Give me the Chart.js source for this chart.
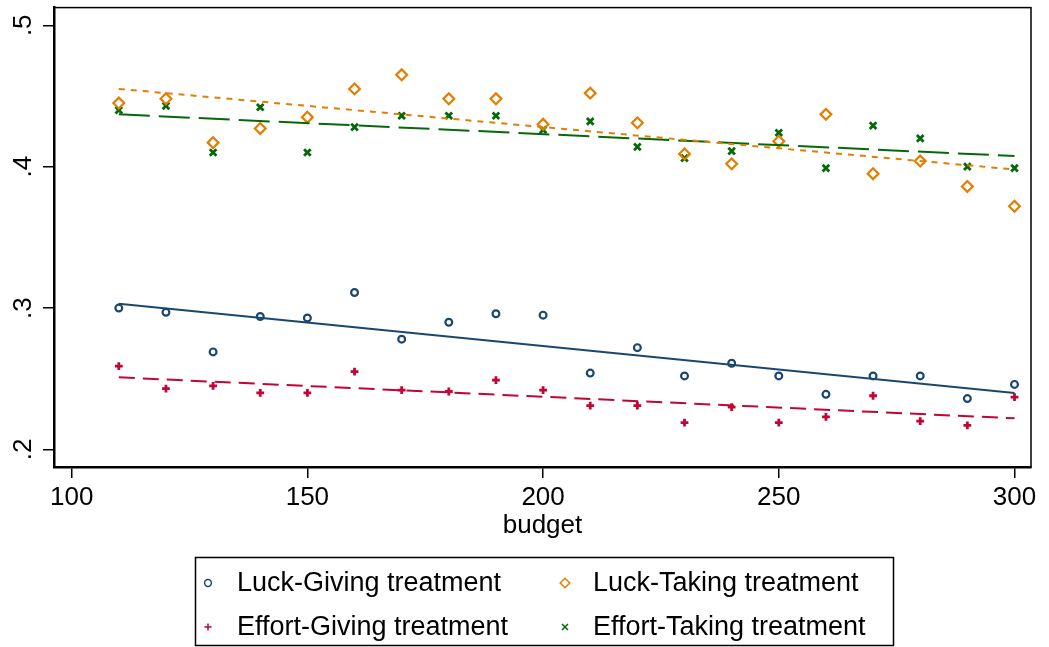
<!DOCTYPE html>
<html>
<head>
<meta charset="utf-8">
<script src="https://cdn.jsdelivr.net/npm/chart.js@4.4.1/dist/chart.umd.min.js"></script>
<style>
  html, body { margin: 0; padding: 0; background: #fff; }
  #wrap { width: 1049px; height: 647px; }
</style>
</head>
<body>
<div id="wrap"><canvas id="myChart"></canvas></div>
<script>
// budget levels (x) and mean shares per treatment
const budget = [110, 120, 130, 140, 150, 160, 170, 180, 190, 200, 210, 220, 230, 240, 250, 260, 270, 280, 290, 300];
const luckGiving = [0.300, 0.297, 0.269, 0.294, 0.293, 0.311, 0.278, 0.290, 0.296, 0.295, 0.254, 0.272, 0.252, 0.261, 0.252, 0.239, 0.252, 0.252, 0.236, 0.246];
const luckTaking = [0.445, 0.448, 0.417, 0.427, 0.435, 0.455, 0.465, 0.448, 0.448, 0.430, 0.452, 0.431, 0.409, 0.402, 0.418, 0.437, 0.395, 0.404, 0.386, 0.372];
const effortGiving = [0.259, 0.243, 0.245, 0.240, 0.240, 0.255, 0.242, 0.241, 0.249, 0.242, 0.231, 0.231, 0.219, 0.230, 0.219, 0.223, 0.238, 0.220, 0.217, 0.237];
const effortTaking = [0.440, 0.443, 0.410, 0.442, 0.410, 0.428, 0.436, 0.436, 0.436, 0.426, 0.432, 0.414, 0.406, 0.411, 0.424, 0.399, 0.429, 0.420, 0.400, 0.399];

// fitted lines, ends
const fitBudget = [110, 300];
const luckGivingFit = [0.303, 0.240];
const luckTakingFit = [0.455, 0.398];
const effortGivingFit = [0.251, 0.222];
const effortTakingFit = [0.437, 0.4075];

const seriesNames = ["Luck-Giving treatment", "Luck-Taking treatment", "Effort-Giving treatment", "Effort-Taking treatment"];
const xTicks = [100, 150, 200, 250, 300];
const yTicks = [0.2, 0.3, 0.4, 0.5];
const xTitle = "budget";

const FONT = "'Liberation Sans', Arial, sans-serif";
const NAVY = "#1a476f";
const ORANGE = "#e37e00";
const CRANBERRY = "#c10534";
const DKGREEN = "#05690a";
const CLEAR = "rgba(0,0,0,0)";

function points(ys) {
  return budget.map((b, i) => ({ x: b, y: ys[i] }));
}

function fitPoints(ys) {
  return fitBudget.map((b, i) => ({ x: b, y: ys[i] }));
}

function markers(label, ys, color, style, radius, width) {
  return {
    label: label,
    data: points(ys),
    showLine: false,
    pointStyle: style,
    pointRadius: radius,
    pointBorderWidth: width,
    borderColor: color,
    backgroundColor: CLEAR,
    order: 2,
  };
}

function fit(ys, color, dash, width) {
  return {
    label: "fit",
    data: fitPoints(ys),
    showLine: true,
    pointRadius: 0,
    borderColor: color,
    borderWidth: width,
    borderDash: dash,
    fill: false,
    order: 1,
  };
}

// no extra label padding, so the plot box sits where the figure has it
function noPad(scale) {
  scale.paddingTop = 0;
  scale.paddingBottom = 0;
  scale.paddingLeft = 0;
  scale.paddingRight = 0;
}

// plot-region outline
const frame = {
  id: "frame",
  afterDraw(chart) {
    const { ctx, chartArea: a } = chart;
    ctx.save();
    ctx.strokeStyle = "#000";
    ctx.lineWidth = 1.5;
    ctx.strokeRect(a.left, a.top, a.right - a.left, a.bottom - a.top);
    ctx.restore();
  },
};

// two-column boxed legend below the axis title
const boxLegend = {
  id: "boxLegend",
  afterDraw(chart) {
    const ctx = chart.ctx;
    ctx.save();
    ctx.strokeStyle = "#000";
    ctx.lineWidth = 1.5;
    ctx.strokeRect(195.5, 557.5, 698, 88);
    ctx.font = "27px " + FONT;
    ctx.fillStyle = "#000";
    ctx.textBaseline = "middle";
    ctx.textAlign = "left";
    const small = [3.4, 4.8, 3.6, 4.2];
    for (let i = 0; i < 4; i++) {
      const ds = chart.data.datasets[i];
      const col = i % 2;
      const row = Math.floor(i / 2);
      const mx = 208 + col * 357;
      const my = 583 + row * 44;
      ctx.save();
      ctx.strokeStyle = ds.borderColor;
      ctx.fillStyle = CLEAR;
      Chart.helpers.drawPoint(ctx, { pointStyle: ds.pointStyle, radius: small[i], borderWidth: 2.2 }, mx, my);
      ctx.restore();
      ctx.fillText(ds.label, 237 + col * 356, my + 1);
    }
    ctx.restore();
  },
};

new Chart(document.getElementById("myChart"), {
  type: "scatter",
  data: {
    datasets: [
      markers(seriesNames[0], luckGiving, NAVY, "circle", 3.4, 2.2),
      markers(seriesNames[1], luckTaking, ORANGE, "rectRot", 5.4, 2.2),
      markers(seriesNames[2], effortGiving, CRANBERRY, "cross", 3.9, 2.8),
      markers(seriesNames[3], effortTaking, DKGREEN, "crossRot", 4.7, 2.8),
      fit(luckGivingFit, NAVY, [], 2),
      fit(luckTakingFit, ORANGE, [6, 6], 2),
      fit(effortGivingFit, CRANBERRY, [16, 8], 2),
      fit(effortTakingFit, DKGREEN, [31, 9], 2),
    ],
  },
  options: {
    responsive: true,
    maintainAspectRatio: false,
    animation: false,
    layout: { padding: { top: 6, right: 18, left: 0, bottom: 106 } },
    plugins: {
      legend: { display: false },
      tooltip: { enabled: false },
    },
    scales: {
      x: {
        type: "linear",
        position: "bottom",
        min: 96.25,
        max: 303.5,
        afterBuildTicks: (scale) => { scale.ticks = xTicks.map((v) => ({ value: v })); },
        afterFit: (scale) => { scale.height = 74; noPad(scale); },
        grid: { drawOnChartArea: false, drawTicks: true, tickLength: 11, color: "#000", lineWidth: 1.5 },
        border: { color: "#000", width: 2.5 },
        ticks: { font: { family: FONT, size: 26 }, color: "#000", padding: 4, maxRotation: 0 },
        title: { display: true, text: xTitle, font: { family: FONT, size: 26 }, color: "#000", padding: 0 },
      },
      y: {
        type: "linear",
        min: 0.1876,
        max: 0.5125,
        afterBuildTicks: (scale) => { scale.ticks = yTicks.map((v) => ({ value: v })); },
        afterFit: (scale) => { scale.width = 54; noPad(scale); },
        grid: { drawOnChartArea: false, drawTicks: true, tickLength: 11, color: "#000", lineWidth: 1.5 },
        border: { color: "#000", width: 2.5 },
        ticks: {
          font: { family: FONT, size: 26 },
          color: "#000",
          padding: 8,
          minRotation: 90,
          maxRotation: 90,
          crossAlign: "center",
          callback: (v) => v.toFixed(1).replace(/^0/, ""),
        },
      },
    },
  },
  plugins: [frame, boxLegend],
});
</script>
</body>
</html>
